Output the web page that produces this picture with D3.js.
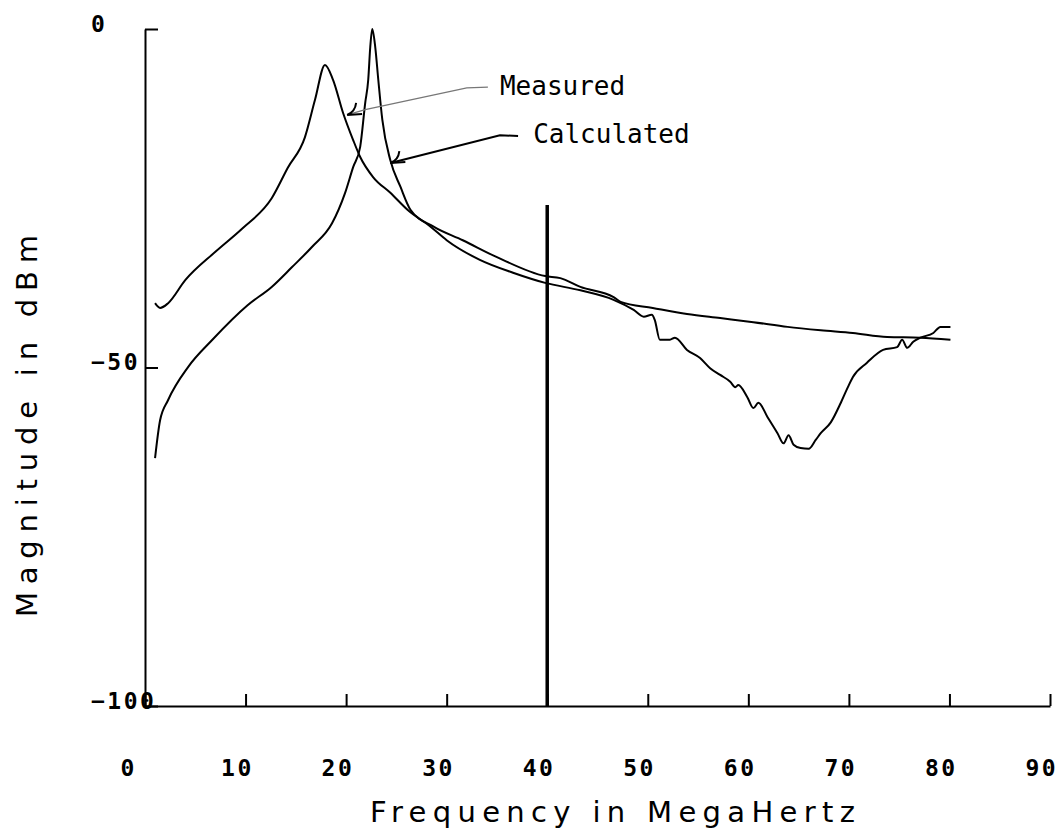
<!DOCTYPE html>
<html>
<head>
<meta charset="utf-8">
<script src="https://cdn.jsdelivr.net/npm/d3@7"></script>
<style>
    body { margin: 0; background: #fff; }
    svg { display: block; }
</style>
</head>
<body>
<div id="chart"></div>
<script>
// Values: frequency in MHz, magnitude in dBm
const measuredFreq = [1.0, 1.5, 2.3, 4.0, 7.0, 9.65, 12.6, 14.2, 15.9, 16.9, 17.9, 18.7, 19.7, 20.7, 21.4, 22.7, 24.4, 26.1,
    28.4, 30.0, 33.3, 36.6, 39.8, 43.3, 46.6, 48.6, 49.6, 50.4, 50.7, 51.2, 52.2, 52.7, 53.9, 55.2, 56.2, 57.2, 58.2,
    58.7, 59.0, 59.9, 60.5, 61.0, 61.9, 62.9, 63.5, 64.0, 64.5, 65.2, 66.0, 66.7, 67.2, 68.2, 69.2, 69.9, 70.4, 71.8,
    73.4, 74.8, 75.3, 75.8, 76.4, 77.1, 78.4, 79.1, 80.1];
const measuredDb = [-40.5, -41.2, -40.5, -37.1, -32.9, -29.5, -25.0, -20.5, -16.0, -10.5, -5.3, -7.5, -12.4, -16.4, -18.9, -21.9, -24.2, -26.7,
    -29.2, -31.2, -34.1, -36.0, -37.5, -38.6, -40.0, -41.5, -42.5, -42.2, -43.0, -45.9, -45.9, -45.6, -47.4, -48.6, -50.1, -51.1, -52.1,
    -52.9, -52.6, -54.4, -56.0, -55.2, -57.3, -59.7, -61.2, -60.0, -61.4, -61.9, -62.0, -60.7, -59.7, -58.1, -55.2, -52.9, -51.4, -49.3,
    -47.4, -47.0, -45.9, -47.1, -46.2, -45.6, -44.9, -44.0, -44.0];

const calculatedFreq = [1.0, 1.5, 2.3, 4.3, 6.7, 10.2, 12.6, 14.6, 16.6, 18.6, 19.9, 20.7, 21.4, 21.9, 22.2, 22.4, 22.6,
    22.9, 23.2, 23.6, 24.4, 25.4, 26.4, 28.7, 31.6, 35.0, 39.8, 41.3, 43.3, 46.6, 47.3, 50.5, 53.9, 57.2, 60.5, 63.9,
    67.2, 70.4, 73.8, 77.1, 80.1];
const calculatedDb = [-63.4, -57.8, -54.8, -49.9, -45.9, -40.8, -38.1, -35.2, -32.2, -28.7, -24.2, -20.4, -17.4, -10.9, -7.5, -2.7, 0,
    -2.7, -7.5, -13.4, -19.4, -23.3, -26.7, -29.2, -31.2, -33.7, -36.5, -36.8, -38.1, -39.6, -40.3, -41.2, -42.1, -42.7, -43.3, -44.0,
    -44.5, -44.9, -45.5, -45.6, -45.9];

// Marker line at 40 MHz
const markerFreq = [40];
const markerTopDb = [-26];

const xTicks = [0, 10, 20, 30, 40, 50, 60, 70, 80, 90];
const yTicks = [0, -50, -100];

// Callouts, in data coordinates: leader path points, then label anchor
const calloutLabels = ["Measured", "Calculated"];
const calloutPaths = [
    [[34.1, -8.6], [32.0, -8.7], [21.9, -11.9], [20.1, -12.7]],
    [[37.1, -15.8], [35.3, -15.7], [24.4, -19.8]]
];
const calloutText = [[35.3, -9.7], [38.6, -16.8]];

const width = 1062;
const height = 829;

const svg = d3.select("#chart").append("svg")
    .attr("width", width)
    .attr("height", height);

const x = d3.scaleLinear().domain([0, 90]).range([145, 1050]);
const y = d3.scaleLinear().domain([-100, 0]).range([706, 29]);

const tickFont = "'DejaVu Sans Mono', monospace";

// X axis, ticks pointing inward
const xAxis = svg.append("g")
    .attr("transform", `translate(0,${y(-100)})`)
    .call(d3.axisBottom(x).tickValues(xTicks).tickSizeInner(-12).tickSizeOuter(0).tickFormat(d3.format("d")));

// Y axis
const yAxis = svg.append("g")
    .attr("transform", `translate(${x(0)},0)`)
    .call(d3.axisLeft(y).tickValues(yTicks).tickSizeInner(-13).tickSizeOuter(0).tickFormat(d3.format("d")));

for (const axis of [xAxis, yAxis]) {
    axis.attr("font-size", null);
    axis.select(".domain").attr("stroke", "#000").attr("stroke-width", 2);
    axis.selectAll(".tick line").attr("stroke", "#000").attr("stroke-width", 2);
    axis.selectAll(".tick text")
        .attr("fill", "#000")
        .style("font-family", tickFont)
        .style("font-weight", "bold")
        .style("font-size", "23px")
        .style("letter-spacing", "2.5px")
        .attr("text-anchor", "start");
}
xAxis.selectAll(".tick text").attr("x", -25).attr("y", 70).attr("dy", 0);
yAxis.selectAll(".tick text").attr("x", -54).attr("dy", 2);

// Curves
const line = d3.line()
    .x(d => x(d[0]))
    .y(d => y(d[1]));

const smoothLine = d3.line()
    .curve(d3.curveMonotoneX)
    .x(d => x(d[0]))
    .y(d => y(d[1]));

const series = [
    d3.zip(measuredFreq, measuredDb),
    d3.zip(calculatedFreq, calculatedDb)
];

svg.selectAll(".curve")
    .data(series)
    .join("path")
        .attr("class", "curve")
        .attr("d", smoothLine)
        .attr("fill", "none")
        .attr("stroke", "#000")
        .attr("stroke-width", 2)
        .attr("stroke-linejoin", "round");

// Marker
svg.selectAll(".marker")
    .data(d3.zip(markerFreq, markerTopDb))
    .join("line")
        .attr("class", "marker")
        .attr("x1", d => x(d[0]))
        .attr("x2", d => x(d[0]))
        .attr("y1", d => y(d[1]))
        .attr("y2", y(-100))
        .attr("stroke", "#000")
        .attr("stroke-width", 3.5);

// Callouts with leaders and hand drawn arrow heads
calloutLabels.forEach((label, i) => {
    const pts = calloutPaths[i];
    svg.append("path")
        .attr("d", line(pts))
        .attr("fill", "none")
        .attr("stroke", i == 0 ? "#777" : "#000")
        .attr("stroke-width", i == 0 ? 1.3 : 2);

    const tip = pts[pts.length - 1];
    const tx = x(tip[0]);
    const ty = y(tip[1]);
    svg.append("path")
        .attr("d", `M${tx + 9},${ty - 12} Q${tx + 8},${ty - 3} ${tx},${ty} M${tx},${ty} L${tx + 15},${ty - 1}`)
        .attr("fill", "none")
        .attr("stroke", "#000")
        .attr("stroke-width", 2);

    svg.append("text")
        .attr("x", x(calloutText[i][0]))
        .attr("y", y(calloutText[i][1]))
        .text(label)
        .style("font-family", tickFont)
        .style("font-size", "26px")
        .attr("fill", "#000");
});

// Axis titles
svg.append("text")
    .attr("x", 370)
    .attr("y", 822)
    .attr("textLength", 485)
    .attr("lengthAdjust", "spacing")
    .text("Frequency in MegaHertz")
    .style("font-family", "'DejaVu Sans', sans-serif")
    .style("font-size", "29px")
    .attr("fill", "#000");

svg.append("text")
    .attr("transform", "translate(37,617) rotate(-90)")
    .attr("textLength", 382)
    .attr("lengthAdjust", "spacing")
    .text("Magnitude in dBm")
    .style("font-family", "'DejaVu Sans', sans-serif")
    .style("font-size", "29px")
    .attr("fill", "#000");
</script>
</body>
</html>
